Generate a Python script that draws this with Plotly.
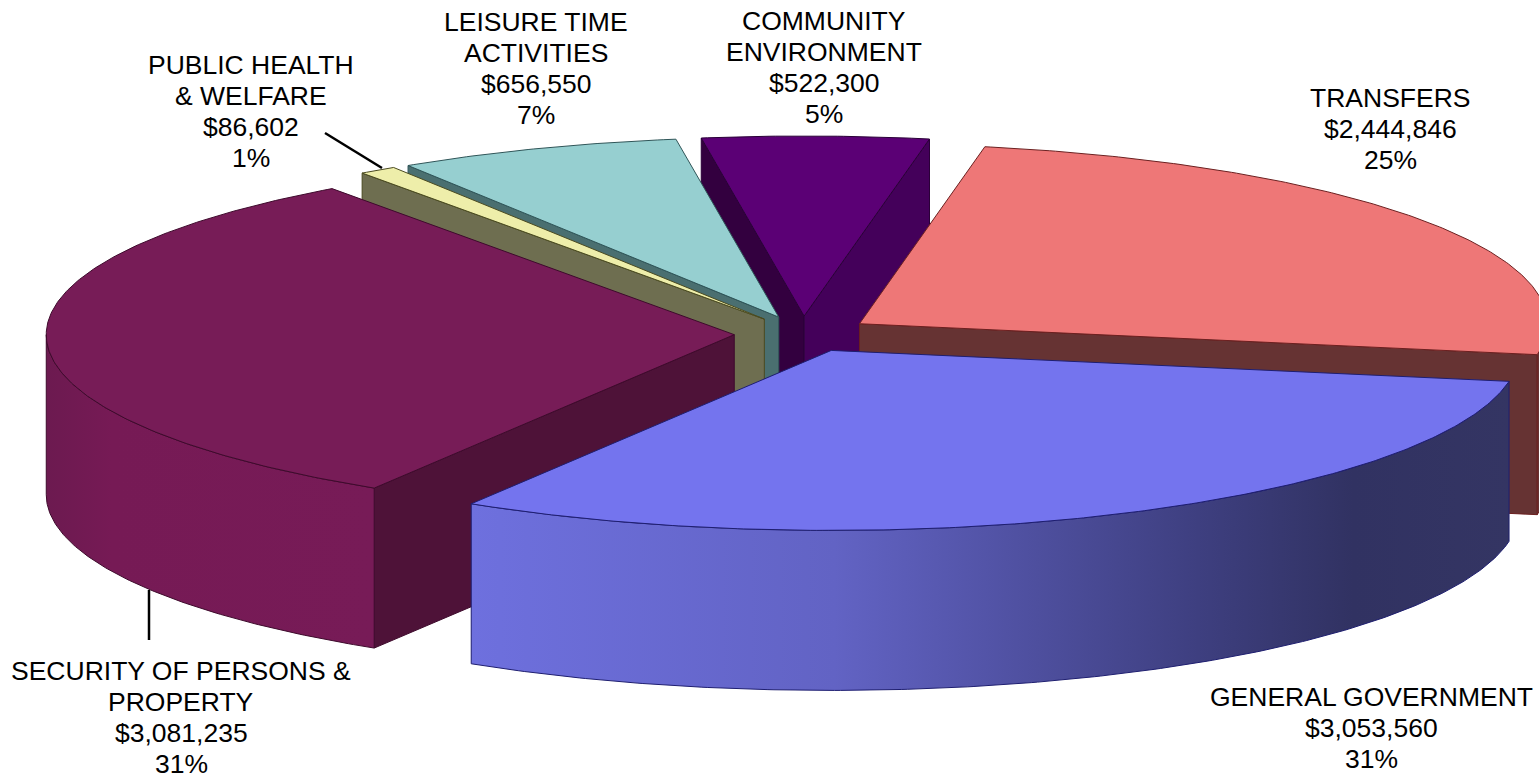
import numpy as np
import plotly.graph_objects as go

# ---- data ----
categories = ["COMMUNITY ENVIRONMENT", "TRANSFERS", "GENERAL GOVERNMENT",
              "SECURITY OF PERSONS & PROPERTY", "PUBLIC HEALTH & WELFARE",
              "LEISURE TIME ACTIVITIES"]
values = [522300, 2444846, 3053560, 3081235, 86602, 656550]
name_lines = [["COMMUNITY", "ENVIRONMENT"], ["TRANSFERS"], ["GENERAL GOVERNMENT"],
              ["SECURITY OF PERSONS &", "PROPERTY"], ["PUBLIC HEALTH", "& WELFARE"],
              ["LEISURE TIME", "ACTIVITIES"]]

# ---- styles ----
top_colors = ["#5B0075", "#EE7777", "#7474EE", "#771C57", "#EEEEAA", "#96CFD0"]
start_cut_colors = ["#33003F", "#663333", "#3A3A77", "#4E1238", "#6E6E50", "#4A6F70"]
end_cut_colors = ["#44005A", "#663333", "#3A3A77", "#4E1238", "#6E6E50", "#4A6F70"]
line_colors = ["#2A0038", "#6B2020", "#1E1E70", "#3E0A2C", "#4A4A20", "#2F5558"]
side_scales = {
    1: [[0, "#663333"], [1, "#663333"]],
    2: [[0, "#6E70DE"], [0.35, "#6263C4"], [0.7, "#3E3F80"], [0.85, "#313262"], [1, "#343563"]],
    3: [[0, "#6C1A50"], [0.2, "#761A55"], [1, "#771B57"]],
}
draw_order = [0, 1, 5, 4, 3, 2]

# ---- layout geometry ----
W, H = 1539, 778
CX, CY = 803, 334
A, B = 688, 180
EXPLODE = 0.10
DEPTH = 160
START_ANGLE = 351.4

label_x = [824, 1390, 1371, 181, 251, 536]
label_top = [21, 98, 697, 671, 65, 22]
line_step = 30.9
FONT = "Liberation Sans, Arial, sans-serif"
FONT_SIZE = 26.5

# ---- geometry computed from the values ----
vals = np.array(values, dtype=float)
total = vals.sum()
spans = vals / total * 360
starts = START_ANGLE + np.concatenate([[0], np.cumsum(spans)[:-1]])
ends = starts + spans


def pt(t, scale=1.0):
    r = np.radians(t)
    return A * scale * np.sin(r), -B * scale * np.cos(r)


fig = go.Figure()


def poly(xs, ys, color, line, gradient=None, width=1):
    kw = dict(fillcolor=color)
    if gradient is not None:
        kw = dict(fillgradient=dict(type="horizontal", colorscale=gradient))
    fig.add_trace(go.Scatter(
        x=list(xs), y=list(ys), mode="lines", fill="toself",
        line=dict(color=line, width=width), hoverinfo="skip", showlegend=False, **kw))


for i in draw_order:
    s, e = starts[i], ends[i]
    mid = (s + e) / 2
    ox, oy = pt(mid, EXPLODE)
    ax, ay = CX + ox, CY + oy
    ts = np.linspace(s, e, max(8, int(e - s) * 2))
    px, py = pt(ts)
    ex, ey = ax + px, ay + py

    # end cut faces, visible only when they face the viewer
    if np.sin(np.radians(s)) < 0:
        poly([ax, ex[0], ex[0], ax, ax], [ay, ey[0], ey[0] + DEPTH, ay + DEPTH, ay],
             start_cut_colors[i], line_colors[i])
    if np.sin(np.radians(e)) > 0:
        poly([ax, ex[-1], ex[-1], ax, ax], [ay, ey[-1], ey[-1] + DEPTH, ay + DEPTH, ay],
             end_cut_colors[i], line_colors[i])

    # outer rim, visible for the front half of the ellipse
    for k in (0, 1):
        lo, hi = max(s, 90 + 360 * k), min(e, 270 + 360 * k)
        if hi > lo:
            tr = np.linspace(lo, hi, max(8, int(hi - lo) * 2))
            rx, ry = pt(tr)
            xs = np.concatenate([ax + rx, (ax + rx)[::-1], [ax + rx[0]]])
            ys = np.concatenate([ay + ry, (ay + ry + DEPTH)[::-1], [ay + ry[0]]])
            poly(xs, ys, top_colors[i], line_colors[i], gradient=side_scales.get(i))

    # top face
    poly(np.concatenate([[ax], ex, [ax]]), np.concatenate([[ay], ey, [ay]]),
         top_colors[i], line_colors[i])

annotations = []
for i, lines in enumerate(name_lines):
    texts = lines + [f"${values[i]:,}", f"{values[i] / total * 100:.0f}%"]
    for j, t in enumerate(texts):
        annotations.append(dict(
            x=label_x[i], y=label_top[i] + j * line_step, text=t, showarrow=False,
            xanchor="center", yanchor="middle",
            font=dict(family=FONT, size=FONT_SIZE, color="#000000")))

leaders = [((325, 133), (382, 168)), ((149, 590), (149, 640))]
shapes = [dict(type="line", x0=a[0], y0=a[1], x1=b[0], y1=b[1],
               line=dict(color="#000000", width=2.5)) for a, b in leaders]

fig.update_layout(
    width=W, height=H, margin=dict(l=0, r=0, t=0, b=0),
    paper_bgcolor="#FFFFFF", plot_bgcolor="#FFFFFF",
    xaxis=dict(range=[0, W], visible=False, fixedrange=True),
    yaxis=dict(range=[H, 0], visible=False, fixedrange=True),
    annotations=annotations, shapes=shapes, showlegend=False,
)
fig.write_html("out.html", post_script="document.body.style.margin='0';",
               config={"displayModeBar": False})
